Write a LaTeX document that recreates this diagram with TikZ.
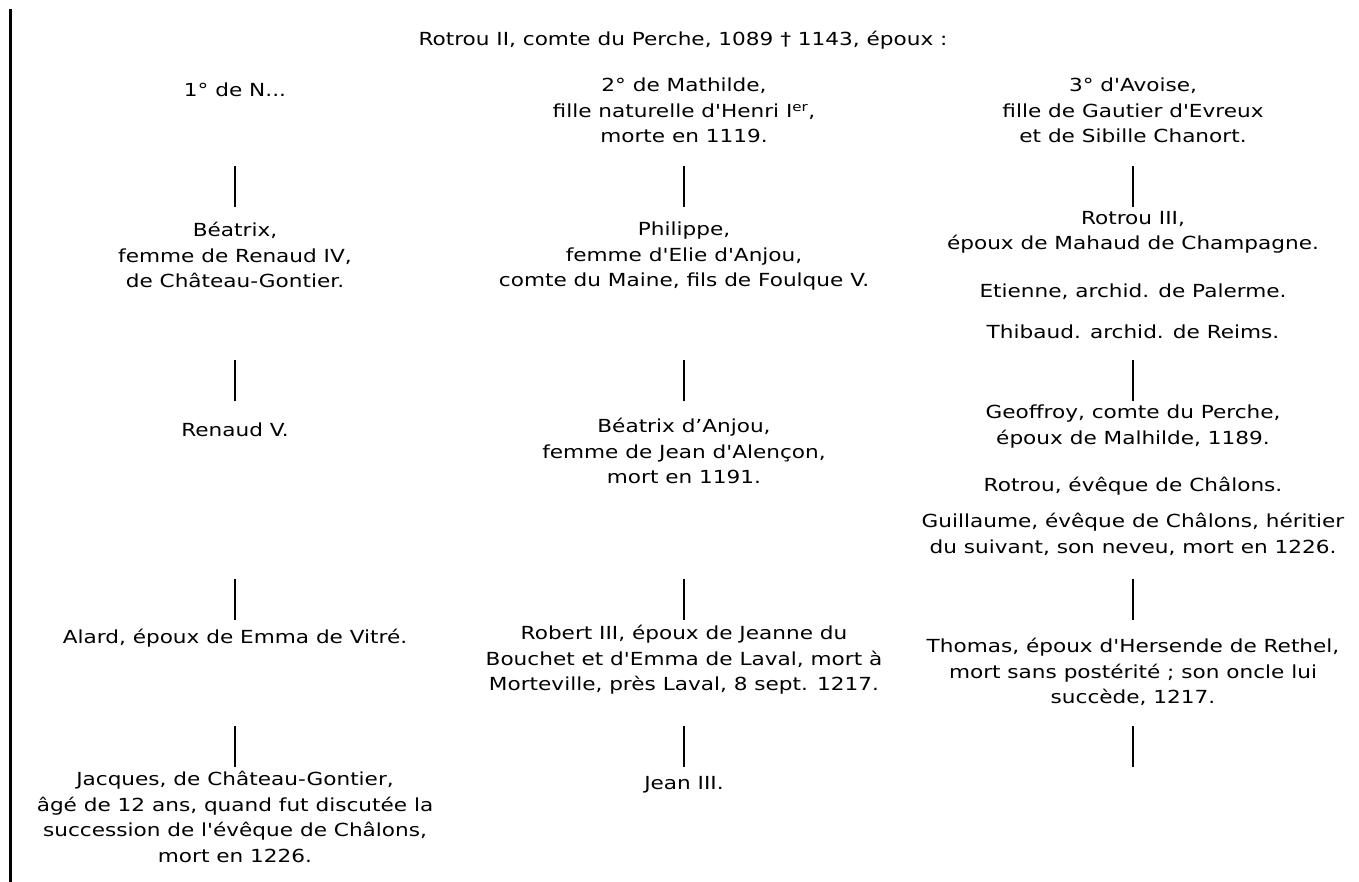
\documentclass[tikz,border=0pt]{standalone}
\usepackage{fontspec}
\newfontfamily\treefont[FakeStretch=1.2]{DejaVu Sans}

\begin{document}
\begin{tikzpicture}[x=1pt, y=-1pt, font=\treefont\fontsize{18}{25.5}\selectfont]
            \tikzset{person/.style={anchor=north, align=center, inner sep=0pt, execute at begin node=\strut}}
            \useasboundingbox (0,0) rectangle (1359,882);

            \coordinate (top) at (10.5,9);
            \coordinate (bottom) at (10.5,882);
            \draw[line width=2.4pt] (top) -- (bottom);

            \node[person] (rotrou) at (683,27) {Rotrou II, comte du Perche, 1089 † 1143, époux :};

            \node[person] (n) at (235,78) {1° de N...};
            \node[person] (mathilde) at (684,78) {2° de Mathilde,\\ fille naturelle d'Henri I\textsuperscript{er},\\ morte en 1119.};
            \node[person] (avoise) at (1133,78) {3° d'Avoise,\\ fille de Gautier d'Evreux\\ et de Sibille Chanort.};

            \node[person] (beatrix) at (235,222) {Béatrix,\\ femme de Renaud IV,\\ de Château-Gontier.};
            \node[person] (philippe) at (684,222) {Philippe,\\ femme d'Elie d'Anjou,\\ comte du Maine, fils de Foulque V.};
            \node[person] (rotrouiii) at (1133,211) {Rotrou III,\\ époux de Mahaud de Champagne.};
            \node[person] (etienne) at (1133,279) {Etienne, archid. de Palerme.};
            \node[person] (thibaud) at (1133,320) {Thibaud. archid. de Reims.};

            \node[person] (renaud) at (235,418) {Renaud V.};
            \node[person] (beatrixa) at (684,418) {Béatrix d’Anjou,\\ femme de Jean d'Alençon,\\ mort en 1191.};
            \node[person] (geoffroy) at (1133,405) {Geoffroy, comte du Perche,\\ époux de Malhilde, 1189.};
            \node[person] (rotrouev) at (1133,473) {Rotrou, évêque de Châlons.};
            \node[person] (guillaume) at (1133,513) {Guillaume, évêque de Châlons, héritier\\ du suivant, son neveu, mort en 1226.};

            \node[person] (alard) at (235,625) {Alard, époux de Emma de Vitré.};
            \node[person] (robert) at (684,625) {Robert III, époux de Jeanne du\\ Bouchet et d'Emma de Laval, mort à\\ Morteville, près Laval, 8 sept. 1217.};
            \node[person] (thomas) at (1133,638) {Thomas, époux d'Hersende de Rethel,\\ mort sans postérité ; son oncle lui\\ succède, 1217.};

            \node[person] (jacques) at (235,771) {Jacques, de Château-Gontier,\\ âgé de 12 ans, quand fut discutée la\\ succession de l'évêque de Châlons,\\ mort en 1226.};
            \node[person] (jean) at (684,771) {Jean III.};

            \coordinate (L1a) at (235,166);
            \coordinate (L1b) at (235,207);
            \coordinate (M1a) at (684,166);
            \coordinate (M1b) at (684,207);
            \coordinate (R1a) at (1133,166);
            \coordinate (R1b) at (1133,207);

            \coordinate (L2a) at (235,360);
            \coordinate (L2b) at (235,401);
            \coordinate (M2a) at (684,360);
            \coordinate (M2b) at (684,401);
            \coordinate (R2a) at (1133,360);
            \coordinate (R2b) at (1133,401);

            \coordinate (L3a) at (235,579);
            \coordinate (L3b) at (235,620);
            \coordinate (M3a) at (684,579);
            \coordinate (M3b) at (684,620);
            \coordinate (R3a) at (1133,579);
            \coordinate (R3b) at (1133,620);

            \coordinate (L4a) at (235,726);
            \coordinate (L4b) at (235,767);
            \coordinate (M4a) at (684,726);
            \coordinate (M4b) at (684,767);
            \coordinate (R4a) at (1133,726);
            \coordinate (R4b) at (1133,767);

            \draw[line width=2pt] (L1a) -- (L1b);
            \draw[line width=2pt] (M1a) -- (M1b);
            \draw[line width=2pt] (R1a) -- (R1b);
            \draw[line width=2pt] (L2a) -- (L2b);
            \draw[line width=2pt] (M2a) -- (M2b);
            \draw[line width=2pt] (R2a) -- (R2b);
            \draw[line width=2pt] (L3a) -- (L3b);
            \draw[line width=2pt] (M3a) -- (M3b);
            \draw[line width=2pt] (R3a) -- (R3b);
            \draw[line width=2pt] (L4a) -- (L4b);
            \draw[line width=2pt] (M4a) -- (M4b);
            \draw[line width=2pt] (R4a) -- (R4b);
\end{tikzpicture}
\end{document}
